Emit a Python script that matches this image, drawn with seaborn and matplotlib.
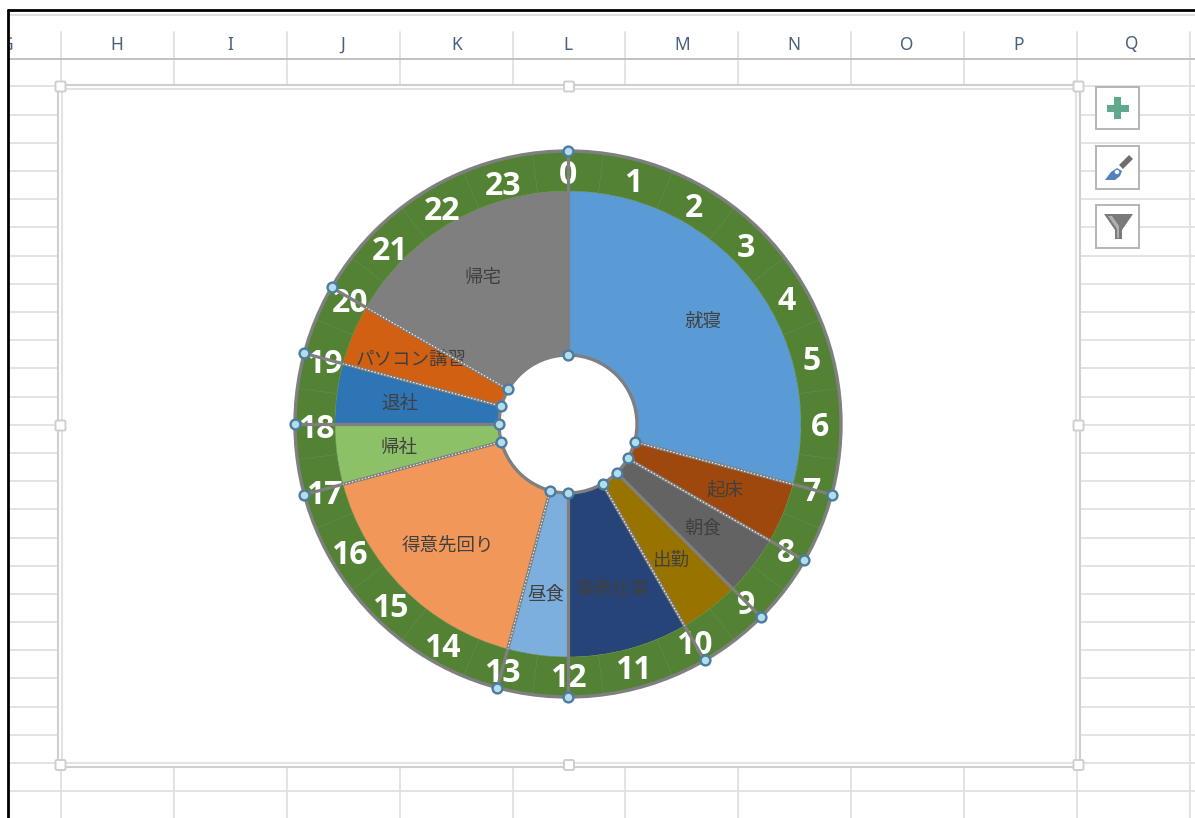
import matplotlib
matplotlib.use("Agg")
import matplotlib.pyplot as plt
from matplotlib.patches import Rectangle, Circle, Polygon, FancyBboxPatch
import numpy as np
import pandas as pd
import seaborn as sns

# ---- data ----
activities = ["就寝", "起床", "朝食", "出勤", "事務仕事", "昼食", "得意先回り", "帰社", "退社", "パソコン講習", "帰宅"]
durations = [7, 1, 1, 1, 2, 1, 4, 1, 1, 1, 4]
slice_colors = ["#5B9BD5", "#9E480E", "#636363", "#997300", "#264478", "#7CAFDD",
                "#F1975A", "#8CC168", "#2E75B6", "#D26012", "#7F7F7F"]
hour_labels = [str(h) for h in range(24)]
hour_units = [1] * 24
dotted_hours = [7, 8, 10, 13, 17, 19, 20]
column_letters = ["H", "I", "J", "K", "L", "M", "N", "O", "P", "Q"]

W, H = 1195, 818
sns.set_theme(style="white")
plt.rcParams["font.family"] = ["Noto Sans CJK JP", "DejaVu Sans"]

fig = plt.figure(figsize=(W / 100, H / 100), dpi=100, facecolor="white")

# ---- spreadsheet chrome, in pixel coordinates ----
bg = fig.add_axes([0, 0, 1, 1])
bg.set_xlim(0, W)
bg.set_ylim(H, 0)
bg.axis("off")

GRID = "#E0E0E0"
col_x = 61 + 112.9 * np.arange(11)
row_y = 86.3 + 28.2 * np.arange(26)
for y in row_y:
    bg.plot([9, W], [y, y], color=GRID, lw=1.3, zorder=1)
for x in col_x:
    bg.plot([x, x], [32, H], color=GRID, lw=1.3, zorder=1)
bg.plot([9, W], [58.5, 58.5], color="#BDBDBD", lw=1.3, zorder=2)
bg.plot([9, W], [15, 15], color="#DEDEDE", lw=1.5, zorder=2)

for letter, x in zip(column_letters, [117, 230, 343, 457, 568, 682, 794, 907, 1019, 1132]):
    bg.text(x, 44.5, letter, ha="center", va="center", fontsize=12.5,
            family="Noto Sans", color="#46607E", zorder=3)
bg.text(7, 44.5, "G", ha="center", va="center", fontsize=12.5, family="Noto Sans",
        color="#46607E", zorder=3)
bg.add_patch(Rectangle((0, 0), 8, H, fc="white", ec="none", zorder=4))
bg.plot([8, 8], [10, H], color="black", lw=2, zorder=5)
bg.plot([8, W], [10, 10], color="black", lw=2, zorder=5)

# chart frame
bg.add_patch(Rectangle((58.5, 84.5), 1022, 682, fc="white", ec="#CFCFCF", lw=1.5, zorder=6))
bg.add_patch(Rectangle((62.5, 88.5), 1014, 674, fc="white", ec="#E2E2E2", lw=1.5, zorder=6))
for hx in (60.5, 569, 1078.5):
    for hy in (86.5, 425.5, 765):
        if hx == 569 and hy == 425.5:
            continue
        bg.add_patch(FancyBboxPatch((hx - 5, hy - 5), 10, 10, boxstyle="round,pad=0,rounding_size=1.5",
                                    fc="white", ec="#CFCFCF", lw=1.4, zorder=7))

# side buttons
for y0, y1 in [(87, 129), (146, 189), (205, 248)]:
    bg.add_patch(Rectangle((1096, y0), 43, y1 - y0, fc="white", ec="#B5B5B5", lw=1.4, zorder=6))
bg.add_patch(Rectangle((1107, 104.5), 22, 7, fc="#62A88C", ec="none", zorder=7))
bg.add_patch(Rectangle((1114.5, 97), 7, 22, fc="#62A88C", ec="none", zorder=7))
bg.plot([1121, 1131], [167, 157], color="#6E6E6E", lw=4, solid_capstyle="butt", zorder=7)
bg.add_patch(Polygon([[1105, 180], [1111, 172], [1117, 168], [1122, 171], [1120, 176], [1115, 180]],
                     fc="#4F81BD", ec="none", zorder=7))
bg.add_patch(Circle((1117, 172), 2.2, fc="white", ec="none", zorder=8))
bg.add_patch(Polygon([[1104, 214], [1133, 214], [1122, 230], [1122, 239], [1115, 239], [1115, 230]],
                     fc="#7A7A7A", ec="none", zorder=7))
bg.add_patch(Polygon([[1108, 216], [1112, 216], [1119, 226], [1119, 238], [1117, 238], [1117, 229]],
                     fc="#B0B0B0", ec="none", zorder=8))

# ---- donut, one data unit = one pixel ----
CX, CY, SPAN = 568, 424, 300
ax = fig.add_axes([(CX - SPAN) / W, (H - CY - SPAN) / H, 2 * SPAN / W, 2 * SPAN / H])
ax.patch.set_alpha(0)
R_OUT, R_RING, R_HOLE = 273, 233, 69

palette = sns.color_palette(slice_colors)
_, inner_texts = ax.pie(durations, labels=activities, colors=palette, radius=R_RING,
                        startangle=90, counterclock=False, labeldistance=170 / R_RING,
                        wedgeprops=dict(width=R_RING - R_HOLE, linewidth=0),
                        textprops=dict(fontsize=13.3, color="#404040"))
_, ring_texts = ax.pie(hour_units, labels=hour_labels, colors=["#548235"] * 24, radius=R_OUT,
                       startangle=97.5, counterclock=False, labeldistance=252 / R_OUT,
                       wedgeprops=dict(width=R_OUT - R_RING, linewidth=0.4, edgecolor="#58853C"),
                       textprops=dict(fontsize=23, color="white", fontweight="bold", family="Open Sans"))
for t in inner_texts:
    t.set_ha("center")
    t.set_va("center")
    t.set_zorder(3)
    px, py = t.get_position()
    t.set_position((px, py - 1.5))
for t in ring_texts:
    t.set_ha("center")
    t.set_va("center")
    t.set_zorder(3)
    px, py = t.get_position()
    t.set_position((px, py - (6 if px < -1 else 3)))

for r in (R_OUT, R_HOLE):
    ax.add_patch(Circle((0, 0), r, fc="none", ec="#7F7F7F", lw=2.4, zorder=2.5))

boundaries = np.concatenate([[0], np.cumsum(durations)[:-1]])
theta = np.pi / 2 - boundaries / 24 * 2 * np.pi
for h, a in zip(boundaries, theta):
    c, s = np.cos(a), np.sin(a)
    ax.plot([R_HOLE * c, R_OUT * c], [R_HOLE * s, R_OUT * s], color="#7F7F7F", lw=2.3,
            solid_capstyle="butt", zorder=4)
    if h in dotted_hours:
        ax.plot([R_HOLE * c, R_RING * c], [R_HOLE * s, R_RING * s], color="white", lw=0.8,
                ls=(0, (1.2, 1.8)), zorder=4.1)

handles = pd.DataFrame({
    "x": np.concatenate([R_HOLE * np.cos(theta), R_OUT * np.cos(theta)]),
    "y": np.concatenate([R_HOLE * np.sin(theta), R_OUT * np.sin(theta)]),
})
sns.scatterplot(data=handles, x="x", y="y", ax=ax, s=50, color="#B4DDE6",
                edgecolor="#4A7CA3", linewidth=1.7, zorder=5, clip_on=False, legend=False)
ax.set_xlim(-SPAN, SPAN)
ax.set_ylim(-SPAN, SPAN)
ax.set_xlabel("")
ax.set_ylabel("")
ax.set_xticks([])
ax.set_yticks([])

fig.savefig("out.png", dpi=100, facecolor="white")
